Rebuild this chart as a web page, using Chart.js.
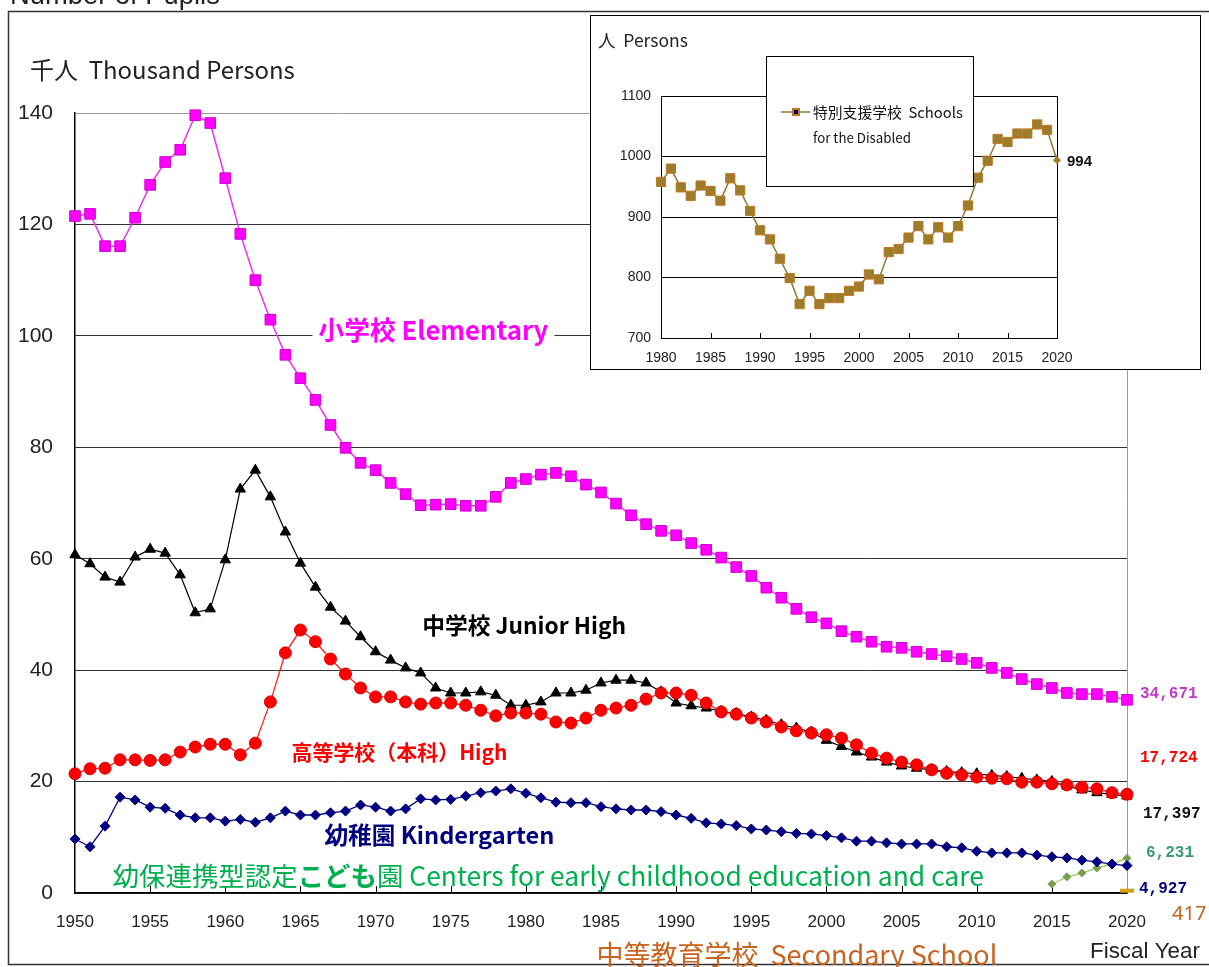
<!DOCTYPE html>
<html>
<head>
<meta charset="utf-8">
<script src="https://cdn.jsdelivr.net/npm/chart.js@4.4.1/dist/chart.umd.min.js"></script>
<style>
  body { margin: 0; background: #fff; overflow: hidden; }
  #wrap { position: relative; width: 1209px; height: 967px; }
  #main { position: absolute; left: 0; top: 0; }
  #insetBox { position: absolute; left: 590px; top: 15px; width: 609px; height: 353px; border: 1px solid #000; background: #fff; }
</style>
</head>
<body>
<div id="wrap">
  <canvas id="main" width="1209" height="967"></canvas>
  <div id="insetBox"><canvas id="inset" width="609" height="353"></canvas></div>
</div>
<script>
// ---------------- DATA (thousand persons) ----------------
const years = [];
for (let y = 1950; y <= 2020; y++) years.push(y);

const elementary = [
  121.5, 121.9, 116.1, 116.1, 121.2, 127.1, 131.2, 133.4, 139.6, 138.2,
  128.3, 118.3, 110.0, 102.9, 96.6, 92.4, 88.5, 84.0, 79.9, 77.2,
  75.9, 73.6, 71.6, 69.6, 69.7, 69.8, 69.5, 69.5, 71.1, 73.6,
  74.3, 75.1, 75.4, 74.8, 73.3, 71.9, 69.9, 67.8, 66.2, 65.0,
  64.2, 62.8, 61.6, 60.2, 58.5, 56.9, 54.8, 53.0, 51.0, 49.5,
  48.4, 47.0, 46.0, 45.1, 44.2, 44.0, 43.3, 42.9, 42.5, 42.0,
  41.3, 40.4, 39.5, 38.4, 37.5, 36.8, 35.9, 35.7, 35.7, 35.2, 34.671
];
const juniorHigh = [
  60.7, 59.1, 56.7, 55.8, 60.3, 61.7, 61.0, 57.1, 50.3, 51.0,
  59.8, 72.5, 75.9, 71.1, 64.8, 59.2, 54.9, 51.3, 48.8, 46.0,
  43.3, 41.8, 40.4, 39.5, 36.8, 35.9, 35.9, 36.1, 35.5, 33.7,
  33.7, 34.3, 35.9, 35.9, 36.4, 37.7, 38.2, 38.2, 37.7, 36.1,
  34.1, 33.6, 33.2, 32.6, 32.2, 31.6, 31.0, 30.2, 29.6, 28.9,
  27.4, 26.3, 25.3, 24.4, 23.5, 22.8, 22.4, 22.1, 21.8, 21.6,
  21.4, 21.1, 20.9, 20.6, 20.3, 20.0, 19.2, 18.5, 18.0, 17.7, 17.397
];
const highSchool = [
  21.4, 22.3, 22.4, 23.9, 23.9, 23.8, 23.9, 25.3, 26.2, 26.7,
  26.7, 24.8, 26.9, 34.3, 43.1, 47.2, 45.1, 42.0, 39.3, 36.8,
  35.2, 35.2, 34.3, 33.9, 34.1, 34.1, 33.7, 32.8, 31.8, 32.3,
  32.3, 32.1, 30.7, 30.5, 31.4, 32.8, 33.2, 33.7, 34.8, 35.9,
  35.9, 35.5, 34.1, 32.5, 32.1, 31.4, 30.7, 29.8, 29.1, 28.7,
  28.4, 27.8, 26.6, 25.1, 24.2, 23.5, 23.0, 22.1, 21.5, 21.2,
  20.8, 20.6, 20.5, 19.9, 19.9, 19.6, 19.4, 19.0, 18.7, 18.0, 17.724
];
const kindergarten = [
  9.7, 8.3, 12.0, 17.2, 16.7, 15.4, 15.2, 14.0, 13.5, 13.5,
  12.9, 13.2, 12.7, 13.5, 14.7, 14.0, 14.0, 14.4, 14.7, 15.8,
  15.4, 14.7, 15.1, 16.9, 16.7, 16.8, 17.4, 18.0, 18.3, 18.7,
  17.9, 17.1, 16.3, 16.2, 16.2, 15.5, 15.1, 14.9, 14.9, 14.6,
  14.0, 13.4, 12.6, 12.4, 12.1, 11.5, 11.3, 11.0, 10.7, 10.6,
  10.3, 9.9, 9.3, 9.3, 9.0, 8.8, 8.8, 8.8, 8.3, 8.1,
  7.5, 7.2, 7.2, 7.2, 6.8, 6.5, 6.3, 5.9, 5.6, 5.2, 4.927
];
const kodomoYears = [2015, 2016, 2017, 2018, 2019, 2020];
const kodomoen = [1.6, 2.9, 3.6, 4.5, 5.2, 6.231];
const secondaryYears = [2020];
const secondary = [0.417];

const xTicks = [1950, 1955, 1960, 1965, 1970, 1975, 1980, 1985, 1990, 1995, 2000, 2005, 2010, 2015, 2020];
const yTicks = [0, 20, 40, 60, 80, 100, 120, 140];

// inset: schools for the disabled (persons)
const specialYears = [];
for (let y = 1980; y <= 2020; y++) specialYears.push(y);
const special = [
  958, 980, 949, 935, 952, 943, 927, 964, 944, 910,
  878, 863, 831, 799, 756, 778, 756, 766, 766, 778,
  785, 805, 797, 842, 847, 866, 885, 863, 883, 866,
  885, 919, 965, 993, 1029, 1024, 1038, 1038, 1053, 1044, 994
];
const insetXTicks = [1980, 1985, 1990, 1995, 2000, 2005, 2010, 2015, 2020];
const insetYTicks = [700, 800, 900, 1000, 1100];

// ---------------- LABELS ----------------
const seriesLabels = [
  { runs: [['小学校 Elementary', 'bold']], year: 1966.2, value: 101.0, width: 230, color: '#ff00ff', box: true },
  { runs: [['中学校 Junior High', 'bold']], year: 1973.1, value: 48.1, width: 204, color: '#000000' },
  { runs: [['高等学校（本科）High', 'bold']], year: 1964.4, value: 25.3, width: 216, color: '#ff0000' },
  { runs: [['幼稚園 Kindergarten', 'bold']], year: 1966.6, value: 10.4, width: 230, color: '#000080' },
  { runs: [['幼保連携型認定', 'normal'], ['こども', 'bold'], ['園 Centers for early childhood education and care', 'normal']],
    year: 1952.5, value: 3.05, width: 872, color: '#00b050' },
  { runs: [['中等教育学校  Secondary School', 'normal']], year: 1984.7, value: -11.1, width: 401, color: '#c8641e' }
];
const endLabels = [
  { text: '34,671', value: 34.671, dx: 13, dy: -6, color: '#c23cc2', font: 'bold 16px "Liberation Mono"' },
  { text: '17,724', value: 17.724, dx: 13, dy: -36, color: '#ff0000', font: 'bold 16px "Liberation Mono"' },
  { text: '17,397', value: 17.397, dx: 16, dy: 18, color: '#111111', font: 'bold 16px "Liberation Mono"' },
  { text: '6,231', value: 6.231, dx: 19, dy: -5, color: '#3c9a6e', font: 'bold 16px "Liberation Mono"' },
  { text: '4,927', value: 4.927, dx: 12, dy: 23, color: '#000080', font: 'bold 16px "Liberation Mono"' },
  { text: '417', value: 0.417, dx: 45, dy: 24, color: '#c8641e', font: '20px "Noto Sans"' }
];

const CJK = '"Noto Sans CJK JP"';

function pts(xs, ys) {
  return xs.map((x, i) => ({ x: x, y: ys[i] }));
}

function fitSize(ctx, runs, family, width) {
  let w = 0;
  runs.forEach(r => {
    ctx.font = r[1] + ' 20px ' + family;
    w += ctx.measureText(r[0]).width;
  });
  return 20 * width / w;
}

function drawRuns(ctx, runs, family, size, x, y, color) {
  ctx.fillStyle = color;
  ctx.textAlign = 'left';
  ctx.textBaseline = 'middle';
  runs.forEach(r => {
    ctx.font = r[1] + ' ' + size + 'px ' + family;
    ctx.fillText(r[0], x, y);
    x += ctx.measureText(r[0]).width;
  });
}

function insideTicks(ctx, xs, ys, ticks, len) {
  ctx.save();
  ctx.strokeStyle = '#000';
  ctx.lineWidth = 1;
  ticks.slice(1, -1).forEach(v => {
    const px = Math.round(xs.getPixelForValue(v)) + 0.5;
    ctx.beginPath();
    ctx.moveTo(px, ys.bottom);
    ctx.lineTo(px, ys.bottom - len);
    ctx.stroke();
  });
  ctx.restore();
}

// ---------------- MAIN CHART ----------------
const mainDecor = {
  id: 'mainDecor',
  beforeDraw(chart) {
    const ctx = chart.ctx;
    ctx.save();
    ctx.fillStyle = '#fff';
    ctx.fillRect(0, 0, chart.width, chart.height);
    ctx.strokeStyle = '#333';
    ctx.lineWidth = 1.5;
    ctx.strokeRect(8.5, 11.5, 1240, 953);
    ctx.restore();
  },
  beforeDatasetsDraw(chart) {
    insideTicks(chart.ctx, chart.scales.x, chart.scales.y, xTicks, 7);
  },
  afterDraw(chart) {
    const ctx = chart.ctx;
    const xs = chart.scales.x, ys = chart.scales.y;
    ctx.save();

    // page title (cut off at the top) and axis titles
    ctx.fillStyle = '#222';
    ctx.textAlign = 'left';
    ctx.textBaseline = 'alphabetic';
    ctx.font = fitSize(ctx, [['Number of Pupils', 'normal']], '"Liberation Sans"', 210) + 'px "Liberation Sans"';
    ctx.fillText('Number of Pupils', 10, 4);
    drawRuns(ctx, [['千人  Thousand Persons', 'normal']], CJK,
      fitSize(ctx, [['千人  Thousand Persons', 'normal']], CJK, 265), 30, 70, '#222');
    drawRuns(ctx, [['Fiscal Year', 'normal']], '"Liberation Sans"',
      fitSize(ctx, [['Fiscal Year', 'normal']], '"Liberation Sans"', 110), 1090, 952, '#222');

    // series names
    seriesLabels.forEach(l => {
      const size = fitSize(ctx, l.runs, CJK, l.width);
      const x = xs.getPixelForValue(l.year);
      const y = ys.getPixelForValue(l.value);
      if (l.box) {
        ctx.fillStyle = '#fff';
        ctx.fillRect(x - 6, y - size * 0.75, l.width + 12, size * 1.5);
      }
      drawRuns(ctx, l.runs, CJK, size, x, y, l.color);
    });

    // latest values
    ctx.textAlign = 'left';
    ctx.textBaseline = 'middle';
    endLabels.forEach(l => {
      ctx.font = l.font;
      ctx.fillStyle = l.color;
      ctx.fillText(l.text, xs.getPixelForValue(2020) + l.dx, ys.getPixelForValue(l.value) + l.dy);
    });
    ctx.restore();
  }
};

new Chart(document.getElementById('main'), {
  type: 'line',
  data: {
    datasets: [
      {
        label: '小学校 Elementary',
        data: pts(years, elementary),
        borderColor: '#ee33ee', borderWidth: 1.5,
        pointStyle: 'rect', pointRadius: 7.5,
        pointBackgroundColor: '#ff00ff', pointBorderColor: '#cc00cc', pointBorderWidth: 1,
        clip: false
      },
      {
        label: '高等学校（本科）High',
        data: pts(years, highSchool),
        borderColor: '#ff2020', borderWidth: 1.3,
        pointStyle: 'circle', pointRadius: 6,
        pointBackgroundColor: '#ff0000', pointBorderColor: '#dd0000', pointBorderWidth: 1,
        clip: false
      },
      {
        label: '中学校 Junior High',
        data: pts(years, juniorHigh),
        borderColor: '#000', borderWidth: 1.2,
        pointStyle: 'triangle', pointRadius: 6,
        pointBackgroundColor: '#000', pointBorderColor: '#000', pointBorderWidth: 1,
        clip: false
      },
      {
        label: '幼稚園 Kindergarten',
        data: pts(years, kindergarten),
        borderColor: '#000080', borderWidth: 1.3,
        pointStyle: 'rectRot', pointRadius: 5,
        pointBackgroundColor: '#000080', pointBorderColor: '#000080', pointBorderWidth: 1,
        clip: false
      },
      {
        label: '幼保連携型認定こども園',
        data: pts(kodomoYears, kodomoen),
        borderColor: '#a8d070', borderWidth: 1.5,
        pointStyle: 'rectRot', pointRadius: 4,
        pointBackgroundColor: '#76a050', pointBorderColor: '#76a050', pointBorderWidth: 1,
        clip: false
      },
      {
        label: '中等教育学校',
        data: pts(secondaryYears, secondary),
        showLine: false,
        pointStyle: 'line', pointRadius: 7,
        pointBorderColor: '#d4a017', pointBorderWidth: 4,
        clip: false
      }
    ]
  },
  options: {
    responsive: false,
    animation: false,
    layout: { padding: { top: 113, right: 82, left: 0, bottom: 0 } },
    elements: { line: { tension: 0 } },
    plugins: { legend: { display: false }, tooltip: { enabled: false } },
    scales: {
      x: {
        type: 'linear', min: 1950, max: 2020,
        afterBuildTicks: s => { s.ticks = xTicks.map(v => ({ value: v })); },
        afterFit: s => { s.height = 74; },
        grid: { drawTicks: false, color: c => (c.tick && c.tick.value === 2020 ? '#999' : 'rgba(0,0,0,0)') },
        border: { color: '#000', width: 1.5 },
        ticks: {
          padding: 19, color: '#222', maxRotation: 0, autoSkip: false,
          font: { family: 'Liberation Sans', size: 17 },
          callback: v => String(v)
        }
      },
      y: {
        min: 0, max: 140,
        afterBuildTicks: s => { s.ticks = yTicks.map(v => ({ value: v })); },
        afterFit: s => { s.width = 75; },
        grid: { drawTicks: false, color: c => (c.tick && c.tick.value === 140 ? '#999' : '#333') },
        border: { color: '#000', width: 1.5 },
        ticks: { padding: 22, color: '#222', font: { family: 'Liberation Sans', size: 21 }, callback: v => String(v) }
      }
    }
  },
  plugins: [mainDecor]
});

// ---------------- INSET CHART ----------------
const insetDecor = {
  id: 'insetDecor',
  beforeDatasetsDraw(chart) {
    insideTicks(chart.ctx, chart.scales.x, chart.scales.y, insetXTicks, 5);
  },
  afterDraw(chart) {
    const ctx = chart.ctx;
    const xs = chart.scales.x, ys = chart.scales.y;
    ctx.save();
    drawRuns(ctx, [['人  Persons', 'normal']], CJK, fitSize(ctx, [['人  Persons', 'normal']], CJK, 90), 7, 24, '#222');

    // legend box
    ctx.fillStyle = '#fff';
    ctx.fillRect(175, 40, 207, 130);
    ctx.strokeStyle = '#000';
    ctx.lineWidth = 1;
    ctx.strokeRect(175.5, 40.5, 207, 130);
    ctx.strokeStyle = '#8c7a2e';
    ctx.lineWidth = 1.5;
    ctx.beginPath();
    ctx.moveTo(190, 96);
    ctx.lineTo(219, 96);
    ctx.stroke();
    ctx.fillStyle = '#c0761f';
    ctx.fillRect(201, 92, 8, 8);
    ctx.fillStyle = '#000060';
    ctx.fillRect(203, 94, 4, 4);
    drawRuns(ctx, [['特別支援学校  Schools', 'normal']], CJK, fitSize(ctx, [['特別支援学校  Schools', 'normal']], CJK, 150), 222, 96, '#111');
    drawRuns(ctx, [['for the Disabled', 'normal']], CJK, fitSize(ctx, [['for the Disabled', 'normal']], CJK, 98), 222, 122, '#111');

    // latest value
    ctx.font = 'bold 15px "Liberation Sans"';
    ctx.fillStyle = '#111';
    ctx.textAlign = 'left';
    ctx.textBaseline = 'middle';
    ctx.fillText('994', xs.getPixelForValue(2020) + 10, ys.getPixelForValue(994) + 2);
    ctx.restore();
  }
};

new Chart(document.getElementById('inset'), {
  type: 'line',
  data: {
    datasets: [{
      label: '特別支援学校 Schools for the Disabled',
      data: pts(specialYears, special),
      borderColor: '#8c7a2e', borderWidth: 1.5,
      pointStyle: specialYears.map(y => (y === 2020 ? 'rectRot' : 'rect')),
      pointRadius: specialYears.map(y => (y === 2020 ? 3.5 : 6.5)),
      pointBackgroundColor: '#9b7d2c', pointBorderColor: '#c0761f', pointBorderWidth: 1,
      clip: false
    }]
  },
  options: {
    responsive: false,
    animation: false,
    layout: { padding: { top: 80, right: 143, left: 0, bottom: 0 } },
    elements: { line: { tension: 0 } },
    plugins: { legend: { display: false }, tooltip: { enabled: false } },
    scales: {
      x: {
        type: 'linear', min: 1980, max: 2020,
        afterBuildTicks: s => { s.ticks = insetXTicks.map(v => ({ value: v })); },
        afterFit: s => { s.height = 31; },
        grid: { drawTicks: false, color: c => (c.tick && c.tick.value === 2020 ? '#000' : 'rgba(0,0,0,0)') },
        border: { color: '#000', width: 1 },
        ticks: {
          padding: 12, color: '#222', maxRotation: 0, autoSkip: false,
          font: { family: 'Liberation Sans', size: 14 },
          callback: v => String(v)
        }
      },
      y: {
        min: 700, max: 1100,
        afterBuildTicks: s => { s.ticks = insetYTicks.map(v => ({ value: v })); },
        afterFit: s => { s.width = 70; },
        grid: { drawTicks: false, color: '#000' },
        border: { color: '#000', width: 1 },
        ticks: {
          padding: 10, color: '#222',
          font: { family: 'Liberation Sans', size: 14 },
          callback: v => String(v)
        }
      }
    }
  },
  plugins: [insetDecor]
});
</script>
</body>
</html>
